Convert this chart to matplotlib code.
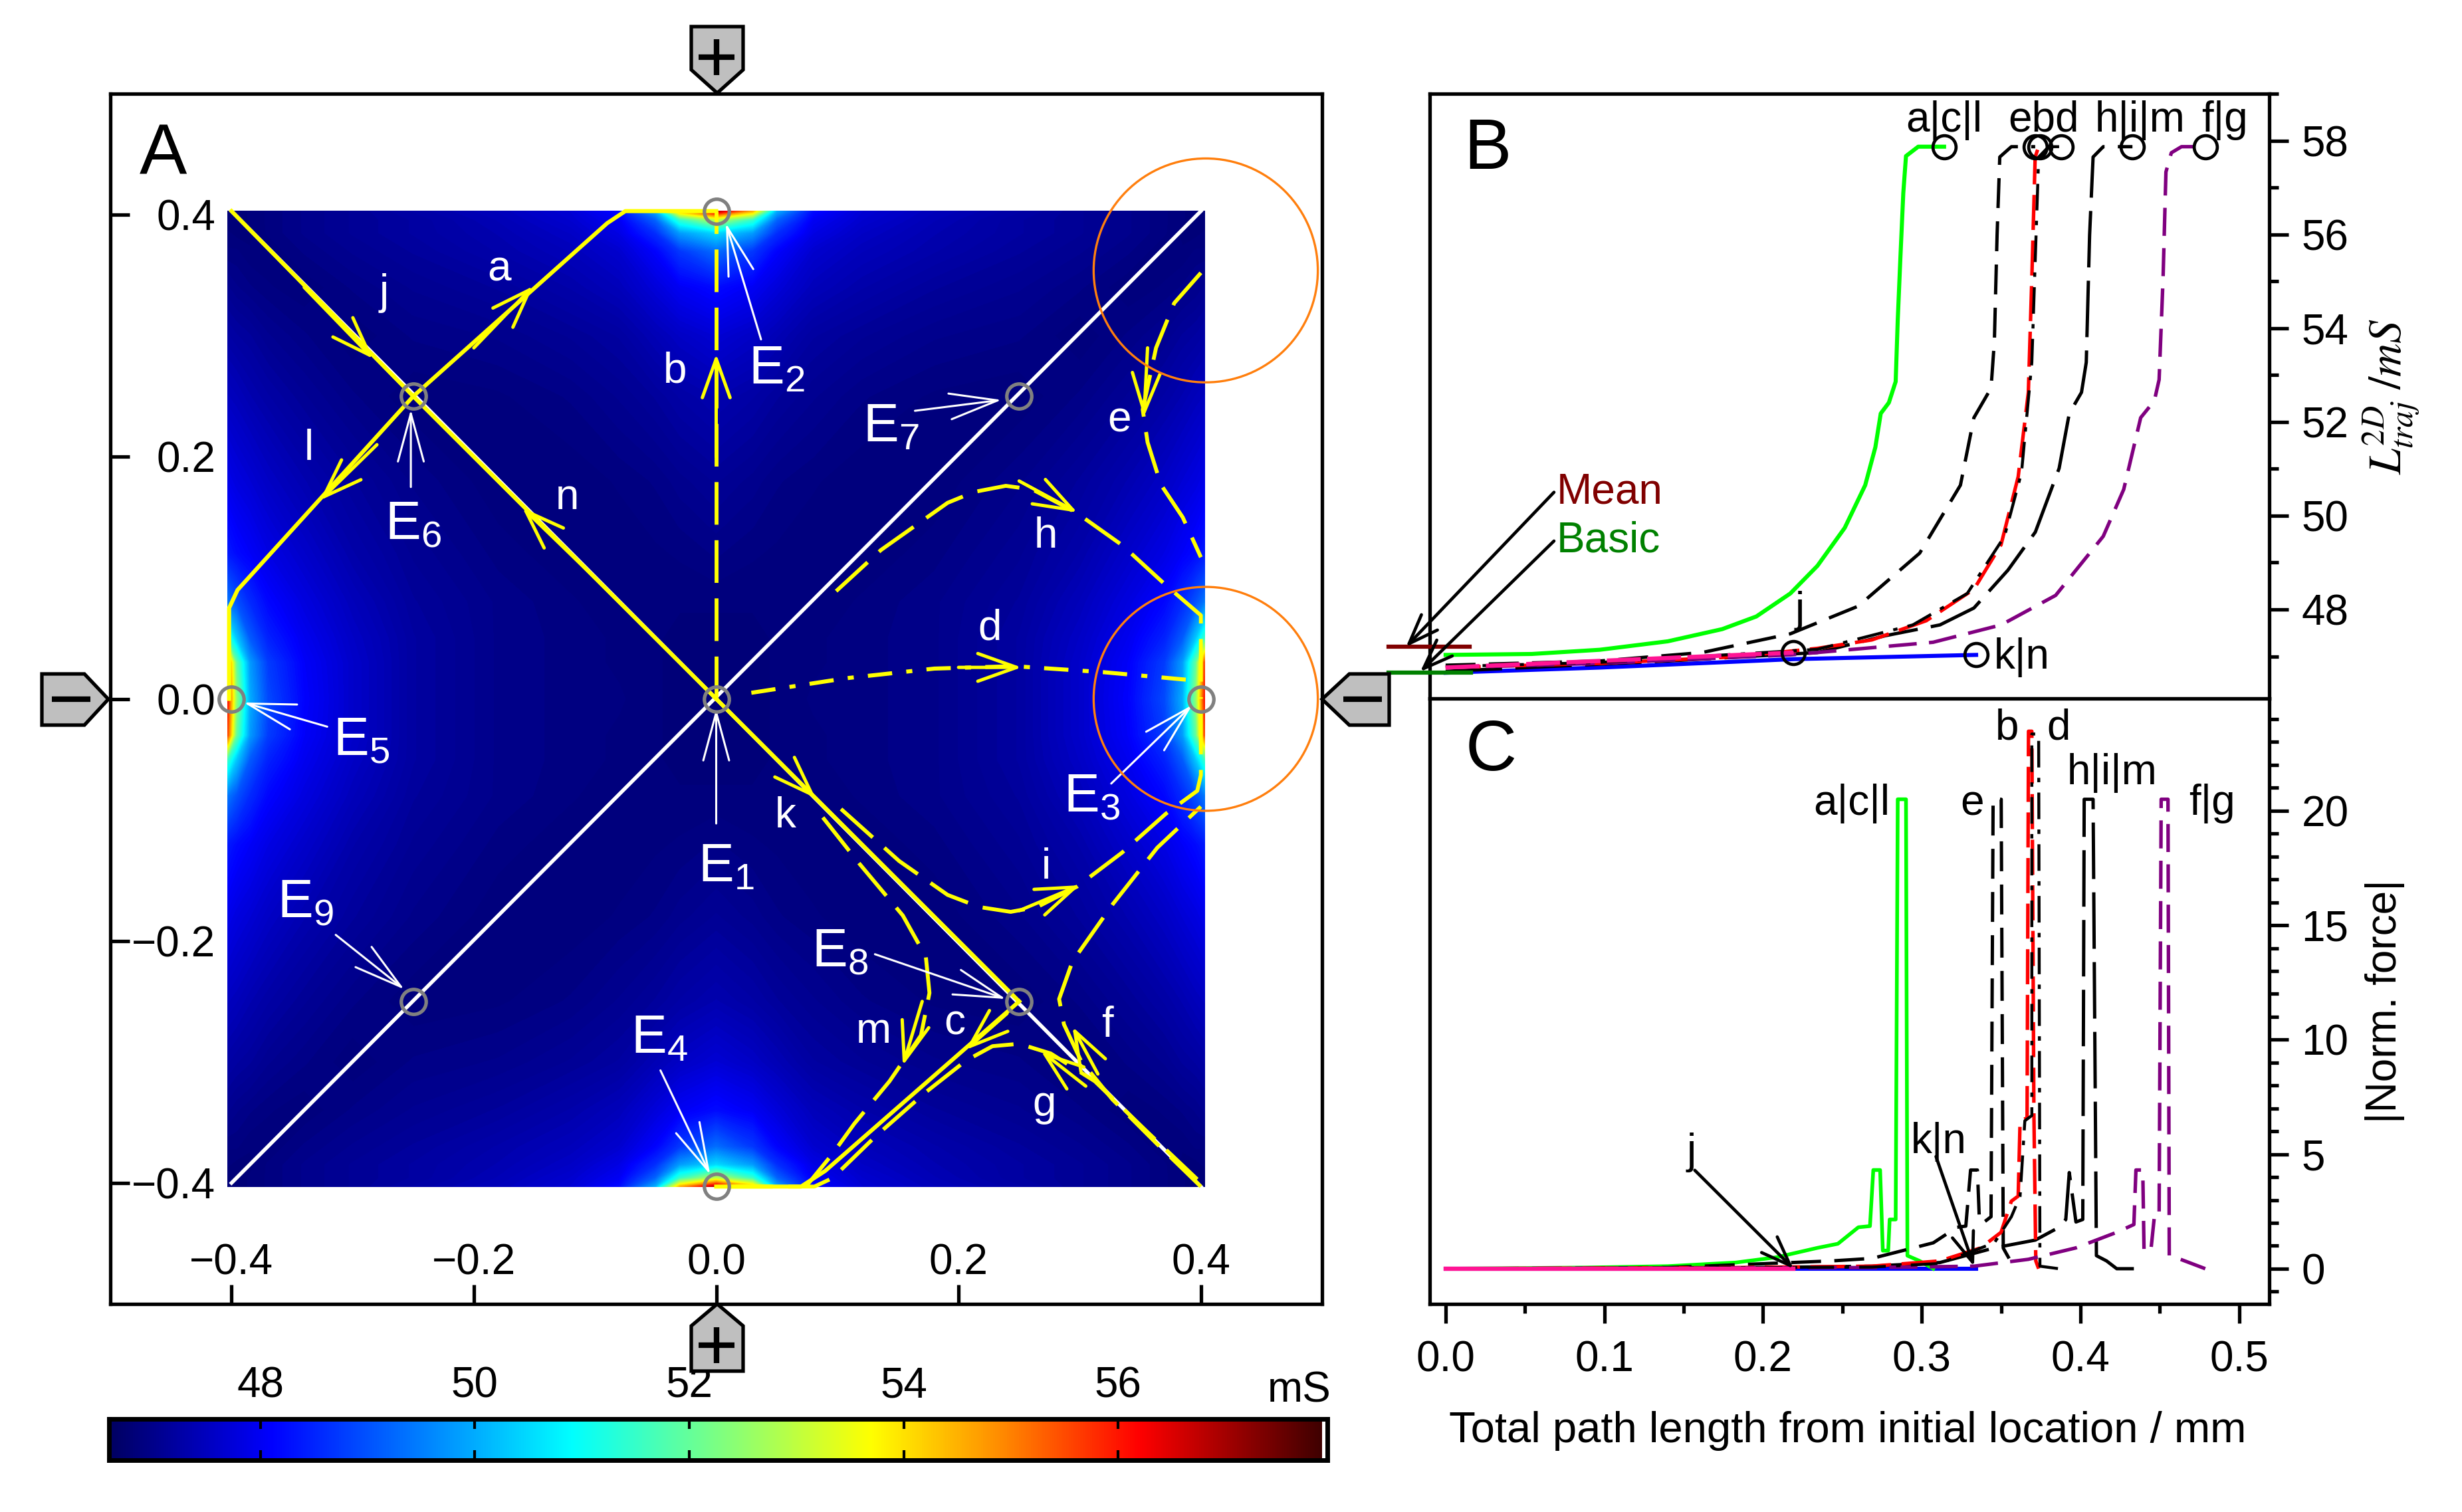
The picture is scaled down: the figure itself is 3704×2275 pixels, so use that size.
import numpy as np
import matplotlib
matplotlib.use("Agg")
import matplotlib.pyplot as plt
from matplotlib.colors import LinearSegmentedColormap, Normalize
from matplotlib.patches import Circle, Polygon
from matplotlib.ticker import MultipleLocator

plt.rcParams['font.family'] = ['Liberation Sans', 'DejaVu Sans']
plt.rcParams['mathtext.default'] = 'regular'

W, H = 3704, 2275

# heat map, upper right quadrant in mS, mirrored below
grid_nodes = [0, .03, .05, .08, .12, .18, .25, .30, .34, .37, .385, .396, .403]
heat_quadrant = [
    [46.8, 46.82, 46.85, 46.9, 46.92, 46.98, 47.2, 47.6, 48.1, 48.9, 50.0, 52.5, 56.0],
    [46.8, 46.82, 46.85, 46.88, 46.92, 46.98, 47.2, 47.6, 48.05, 48.75, 49.8, 52.0, 55.5],
    [46.82, 46.82, 46.85, 46.88, 46.92, 46.98, 47.2, 47.55, 47.95, 48.45, 49.1, 50.3, 51.5],
    [46.85, 46.85, 46.85, 46.85, 46.9, 46.98, 47.15, 47.45, 47.8, 48.15, 48.55, 49.0, 49.4],
    [46.95, 46.9, 46.88, 46.85, 46.85, 46.92, 47.08, 47.3, 47.6, 47.85, 48.05, 48.2, 48.35],
    [47.1, 47.02, 46.95, 46.9, 46.85, 46.85, 46.98, 47.15, 47.35, 47.55, 47.7, 47.8, 47.9],
    [47.35, 47.25, 47.15, 47.05, 46.95, 46.88, 46.85, 46.95, 47.1, 47.25, 47.35, 47.45, 47.5],
    [47.7, 47.55, 47.4, 47.2, 47.1, 47.0, 46.95, 46.85, 46.95, 47.05, 47.15, 47.2, 47.25],
    [48.2, 48.0, 47.75, 47.45, 47.3, 47.15, 47.05, 46.95, 46.85, 46.9, 46.95, 47.0, 47.05],
    [49.3, 48.7, 48.1, 47.65, 47.45, 47.3, 47.15, 47.05, 46.95, 46.85, 46.85, 46.9, 46.9],
    [50.5, 49.8, 48.6, 47.85, 47.55, 47.35, 47.2, 47.1, 47.0, 46.9, 46.82, 46.82, 46.85],
    [53.0, 51.5, 49.2, 48.0, 47.65, 47.4, 47.2, 47.1, 47.0, 46.9, 46.85, 46.8, 46.8],
    [57.0, 54.5, 50.0, 48.2, 47.7, 47.45, 47.25, 47.1, 47.0, 46.9, 46.85, 46.8, 46.8],
]
cbar_min, cbar_max = 46.59, 57.9
cbar_ticks = [48, 50, 52, 54, 56]
cmap_stops = [(46.59, (0, 0, .38)), (48.1, (0, 0, 1)), (49.5, (0, .5, 1)), (50.9, (0, 1, 1)),
              (52.3, (.5, 1, .5)), (53.7, (1, 1, 0)), (54.9, (1, .55, 0)), (56.2, (1, 0, 0)),
              (57.9, (.25, 0, 0))]

# trajectories in panel A (x, y in mm)
diag_x = [-.4, .4]
diag_y = [-.4, .403]
anti_x = [-.4, .4]
anti_y = [.403, -.403]
traj_j = ([-.4, -.25], [.403, .25])
traj_n = ([-.25, 0], [.25, 0])
traj_k = ([0, .25], [0, -.25])
traj_a = ([-.25, -.09, -.075, 0], [.25, .393, .403, .403])
traj_l = ([-.25, -.395, -.402, -.402], [.25, .09, .075, 0])
traj_c = ([.25, .09, .07, 0], [-.25, -.39, -.403, -.403])
traj_b = ([0, 0], [0, .403])
traj_d = ([.029, .107, .18, .246, .32, .397], [.005, .017, .025, .027, .022, .015])
traj_e = ([.4, .378, .363, .352, .356, .367, .385, .4], [.352, .327, .29, .239, .212, .177, .15, .117])
traj_h = ([.099, .136, .191, .213, .239, .261, .297, .335, .371, .4, .4],
          [.089, .123, .162, .171, .176, .173, .154, .127, .094, .069, 0])
traj_i = ([.103, .151, .191, .217, .243, .265, .298, .335, .371, .397, .4, .4],
          [-.091, -.134, -.162, -.172, -.176, -.172, -.155, -.127, -.095, -.076, -.063, 0])
traj_m = ([.088, .118, .154, .173, .176, .169, .143, .114, .096, .074],
          [-.098, -.136, -.179, -.213, -.243, -.278, -.316, -.351, -.376, -.403])
traj_f = ([.4, .364, .327, .301, .287, .283, .294, .327, .364, .4],
          [-.403, -.368, -.331, -.299, -.269, -.248, -.217, -.17, -.123, -.089])
traj_g = ([.397, .357, .3125, .276, .25, .228, .206, .173, .132, .096, .081, 0],
          [-.397, -.359, -.316, -.293, -.285, -.287, -.299, -.325, -.361, -.396, -.403, -.403])

# direction arrows on the trajectories: tail x, tail y, tip x, tip y
traj_arrows = [(-.34, .34, -.283, .281), (-.2, .29, -.151, .341), (0, .2, 0, .285),
               (-.28, .21, -.327, .164), (-.1, .1, -.16, .158), (.03, -.03, .082, -.082),
               (.356, .29, .353, .233), (.25, .18, .298, .154), (.2, .026, .252, .026),
               (.25, -.175, .3, -.154), (.17, -.25, .154, -.303), (.24, -.26, .206, -.29),
               (.315, -.31, .294, -.271), (.305, -.32, .268, -.291)]

e_x = [0, 0, .4, 0, -.4, -.25, .25, .25, -.25]
e_y = [0, .403, 0, -.403, 0, .25, .25, -.25, -.25]
e_labels = ['E$_1$', 'E$_2$', 'E$_3$', 'E$_4$', 'E$_5$', 'E$_6$', 'E$_7$', 'E$_8$', 'E$_9$']
e_label_x = [.008, .05, .31, -.047, -.293, -.25, .144, .102, -.339]
e_label_y = [-.139, .272, -.082, -.281, -.035, .143, .224, -.21, -.169]
e_tail_x = [0, .037, .326, -.046, -.321, -.252, .164, .131, -.314]
e_tail_y = [-.103, .297, -.07, -.307, -.023, .175, .238, -.211, -.195]
e_tip_x = [0, .008, .393, -.005, -.39, -.252, .2355, .239, -.2575]
e_tip_y = [-.008, .393, -.005, -.393, -.003, .239, .247, -.248, -.24]

path_names = ['a', 'j', 'l', 'n', 'b', 'h', 'd', 'e', 'k', 'i', 'c', 'm', 'f', 'g']
path_x = [-.179, -.274, -.336, -.123, -.034, .272, .226, .333, .057, .272, .197, .13, .323, .271]
path_y = [.355, .335, .207, .166, .271, .134, .058, .23, -.097, -.139, -.268, -.275, -.27, -.335]

map_ticks = [-.4, -.2, 0, .2, .4]
map_ticklabels = ['\u22120.4', '\u22120.2', '0.0', '0.2', '0.4']

# panel B, L2D along the trajectory
b_green_x = [0, .0543, .0972, .14, .1743, .1958, .2172, .2343, .2515, .2644, .2708, .2742, .2793, .2836,
             .2849, .2866, .2884, .2901, .2978, .3141]
b_green_y = [47.03, 47.05, 47.14, 47.32, 47.58, 47.85, 48.34, 48.93, 49.74, 50.65, 51.46, 52.18, 52.41, 52.86,
             54.17, 55.52, 56.88, 57.67, 57.87, 57.87]
b_e_x = [0, .0972, .1615, .2172, .26, .2987, .3244, .3329, .3437, .3458, .3475, .3492, .3565, .3715]
b_e_y = [46.81, 46.9, 47.08, 47.48, 48.07, 49.2, 50.65, 52.09, 52.72, 53.72, 55.98, 57.65, 57.87, 57.87]
b_red_x = [0, .0972, .1829, .2343, .2686, .3029, .3329, .35, .3608, .3672, .3694, .3715, .3737]
b_red_y = [46.76, 46.85, 46.99, 47.17, 47.35, 47.76, 48.43, 49.38, 50.83, 52.63, 55.07, 57.65, 57.87]
b_d_x = [0, .0972, .2343, .2944, .3287, .3522, .3629, .3694, .3737, .38, .3878]
b_d_y = [46.78, 46.87, 47.15, 47.67, 48.34, 49.56, 50.92, 53.27, 57.65, 57.87, 57.87]
b_h_x = [0, .14, .2343, .2772, .3115, .3329, .3544, .3716, .3866, .393, .4007, .4037, .4058, .408, .4144, .4328]
b_h_y = [46.68, 46.9, 47.08, 47.44, 47.67, 48.03, 48.84, 49.65, 51.01, 52.18, 52.63, 53.27, 55.98, 57.65,
         57.87, 57.87]
b_f_x = [0, .0972, .2172, .2472, .3072, .3501, .3844, .4144, .4273, .438, .4466, .4496, .4521, .4539, .4573,
         .4637, .4787]
b_f_y = [46.76, 46.85, 47.03, 47.12, 47.3, 47.67, 48.3, 49.56, 50.56, 52.09, 52.45, 52.9, 55.07, 57.33, 57.74,
         57.87, 57.87]
b_j_x = [0, .2193]
b_j_y = [46.76, 47.08]
b_k_x = [0, .0972, .2193, .3343]
b_k_y = [46.65, 46.76, 46.94, 47.03]
b_end_x = [.3141, .3715, .3745, .3878, .4328, .4787, .2193, .3343]
b_end_y = [57.87, 57.87, 57.87, 57.87, 57.87, 57.87, 47.08, 47.03]
mean_level = 47.21
basic_level = 46.65

# panel C, normalised force along the trajectory
c_green_x = [0, .0886, .14, .1829, .2086, .2343, .2472, .2601, .2674, .2695, .2738, .2755, .2789, .2798, .2836,
             .2849, .2901, .291, .2987, .3073]
c_green_y = [0, .05, .11, .27, .5, .91, 1.09, 1.81, 1.86, 4.31, 4.31, .79, .79, 2.15, 2.15, 20.5, 20.5, .57,
             .34, 0]
c_e_x = [0, .14, .243, .2687, .3073, .3222, .3278, .3308, .3351, .3364, .3394, .3437, .345, .3501, .3514, .3587]
c_e_y = [0, .05, .34, .45, 1.13, 1.81, 1.86, 4.31, 4.31, 2.04, 2.04, 2.27, 20.5, 20.5, .9, 0]
c_red_x = [0, .1829, .2686, .3115, .3372, .35, .3565, .3608, .362, .3664, .3673, .3694, .3707, .3719, .3737]
c_red_y = [0, .05, .11, .34, .91, 1.59, 2.95, 3.17, 6.46, 6.58, 23.47, 23.47, 6.8, .34, 0]
c_d_x = [0, .2686, .3115, .3458, .3565, .362, .365, .3694, .3694, .3737, .3745, .3865]
c_d_y = [0, .07, .23, 1.13, 2.27, 3.17, 6.46, 6.69, 23.35, 23.35, .11, 0]
c_h_x = [0, .14, .2687, .3115, .3458, .3716, .3866, .3908, .393, .3972, .4015, .4024, .408, .4101, .4165, .4229,
         .4337]
c_h_y = [0, 0, .11, .27, .91, 1.25, 1.81, 2.15, 4.2, 2.04, 2.15, 20.5, 20.5, .57, .34, 0, 0]
c_f_x = [0, .2686, .3329, .3672, .3972, .4229, .4337, .435, .4393, .4401, .4444, .4466, .4496, .4509, .4552, .456,
         .4616, .4787]
c_f_y = [0, .05, .11, .41, .91, 1.59, 1.93, 4.31, 4.31, .79, .79, 2.27, 2.27, 20.5, 20.5, .57, .45, 0]
c_j_x = [0, .2193]
c_j_y = [0, 0]
c_k_x = [0, .3343]
c_k_y = [0, 0]


def box(fig, left, top, right, bottom):
    return fig.add_axes([left / W, 1 - bottom / H, (right - left) / W, (bottom - top) / H])


def arrow(ax, tail, tip, color, lw, head=(50, 16), clip=False, zorder=8):
    props = dict(arrowstyle='->,head_length=%g,head_width=%g' % head, mutation_scale=1, color=color,
                 lw=lw, shrinkA=0, shrinkB=0)
    ann = ax.annotate('', xy=tip, xytext=tail, arrowprops=props, zorder=zorder, annotation_clip=False)
    ann.arrow_patch.set_clip_on(clip)


def style_frame(ax):
    for s in ax.spines.values():
        s.set_linewidth(3.8)


fig = plt.figure(figsize=(W / 100, H / 100), dpi=100)

# panel A
ax = box(fig, 166, 141, 1989, 1962)
style_frame(ax)
quad = np.array(heat_quadrant)
nodes = np.array(grid_nodes)
full_nodes = np.concatenate([-nodes[:0:-1], nodes])
right_half = np.vstack([quad[:0:-1], quad])
field = np.hstack([right_half[:, :0:-1], right_half])
stop_vals = [(v - cbar_min) / (cbar_max - cbar_min) for v, _ in cmap_stops]
cmap = LinearSegmentedColormap.from_list('field', list(zip(stop_vals, [c for _, c in cmap_stops])), N=512)
norm = Normalize(cbar_min, cbar_max)
ax.contourf(full_nodes, full_nodes, field, levels=np.linspace(cbar_min, cbar_max, 226), cmap=cmap, norm=norm,
            antialiased=False, zorder=1)
ax.set_xlim(-.5, .5)
ax.set_ylim(-.5, .5)

ax.plot(diag_x, diag_y, color='white', lw=4, zorder=3)
ax.plot(anti_x, anti_y, color='white', lw=4, zorder=3)
for t in [traj_j, traj_n, traj_k, traj_a, traj_l, traj_c]:
    ax.plot(t[0], t[1], color='#ffff00', lw=4.4, zorder=4, clip_on=False)
for t in [traj_b, traj_e, traj_h, traj_i, traj_m, traj_f, traj_g]:
    ax.plot(t[0], t[1], color='#ffff00', lw=4.2, ls=(0, (11, 4)), zorder=4)
ax.plot(traj_d[0], traj_d[1], color='#ffff00', lw=4.4, ls=(0, (6, 3.5, 1.5, 3.5)), zorder=4)
for tx, ty, hx, hy in traj_arrows:
    arrow(ax, (tx, ty), (hx, hy), '#ffff00', 3.6, head=(42, 15), zorder=5)

for i in range(len(e_labels)):
    arrow(ax, (e_tail_x[i], e_tail_y[i]), (e_tip_x[i], e_tip_y[i]), 'white', 2.2, head=(52, 14), zorder=6)
    ax.text(e_label_x[i], e_label_y[i], e_labels[i], color='white', fontsize=58, ha='center', va='center', zorder=7)
ax.plot(e_x, e_y, ls='none', marker='o', ms=27, mfc='none', mec='#808080', mew=3.8, clip_on=False, zorder=7)
for px, py, name in zip(path_x, path_y, path_names):
    ax.text(px, py, name, color='white', fontsize=46, ha='center', va='center', zorder=7)

for cy in [.354, 0]:
    ax.add_patch(Circle((.404, cy), .0925, fill=False, ec='#ff7f0e', lw=2.4, zorder=6))

ax.set_xticks(map_ticks)
ax.set_xticklabels(map_ticklabels)
ax.set_yticks(map_ticks)
ax.set_yticklabels(map_ticklabels)
ax.tick_params(axis='x', direction='in', length=21, width=3.8, labelsize=46, pad=-66)
ax.tick_params(axis='y', direction='in', length=21, width=3.8, labelsize=46, pad=-114)

# panel B
ax_b = box(fig, 2151, 141, 3414, 1051)
style_frame(ax_b)
ax_b.plot(b_k_x, b_k_y, color='#0000ff', lw=4.4, zorder=2)
ax_b.plot(b_green_x, b_green_y, color='#00ff00', lw=4.4, zorder=2)
ax_b.plot(b_e_x, b_e_y, color='black', lw=3.6, ls=(0, (9, 4)), zorder=3)
ax_b.plot(b_h_x, b_h_y, color='black', lw=3.6, ls=(0, (17, 4)), zorder=3)
ax_b.plot(b_red_x, b_red_y, color='red', lw=3.8, ls=(0, (10, 3)), zorder=3)
ax_b.plot(b_d_x, b_d_y, color='black', lw=3.2, ls=(0, (9, 3.5, 1.5, 3.5)), zorder=4)
ax_b.plot(b_f_x, b_f_y, color='#800080', lw=3.8, ls=(0, (8, 3.5)), zorder=3)
ax_b.plot(b_j_x, b_j_y, color='#ff1493', lw=4.6, ls=(0, (8, 1.5)), zorder=4)
ax_b.plot(b_end_x, b_end_y, ls='none', marker='o', ms=25, mfc='none', mec='black', mew=3.4, zorder=5)
ax_b.plot([-.036, .015], [mean_level, mean_level], color='#800000', lw=4.5, clip_on=False, zorder=6)
ax_b.plot([-.036, .016], [basic_level, basic_level], color='#008000', lw=4.5, clip_on=False, zorder=6)
arrow(ax_b, (.0683, 50.5), (-.025, 47.2), 'black', 3.4, head=(32, 12))
arrow(ax_b, (.0683, 49.46), (-.016, 46.67), 'black', 3.4, head=(32, 12))
ax_b.text(.07, 50.5, 'Mean', color='#800000', fontsize=46, va='center')
ax_b.text(.07, 49.46, 'Basic', color='#008000', fontsize=46, va='center')
for lx, ly, s in [(.314, 58.44, 'a|c|l'), (.377, 58.44, 'ebd'), (.4375, 58.44, 'h|i|m'), (.491, 58.44, 'f|g'),
                  (.363, 46.98, 'k|n'), (.223, 47.97, 'j')]:
    ax_b.text(lx, ly, s, fontsize=46, ha='center', va='center', zorder=7)
ax_b.set_xlim(-.01, .519)
ax_b.set_ylim(46.1, 59)
ax_b.yaxis.tick_right()
ax_b.yaxis.set_major_locator(MultipleLocator(2))
ax_b.yaxis.set_minor_locator(MultipleLocator(1))
ax_b.xaxis.set_visible(False)
ax_b.tick_params(axis='y', which='major', direction='out', length=21, width=3.8, labelsize=46, pad=14)
ax_b.tick_params(axis='y', which='minor', direction='out', length=10, width=3.8)

# panel C
ax_c = box(fig, 2151, 1051, 3414, 1962)
style_frame(ax_c)
ax_c.plot(c_k_x, c_k_y, color='#0000ff', lw=4.4, zorder=2)
ax_c.plot(c_green_x, c_green_y, color='#00ff00', lw=4, zorder=2)
ax_c.plot(c_e_x, c_e_y, color='black', lw=3.6, ls=(0, (9, 4)), zorder=3)
ax_c.plot(c_h_x, c_h_y, color='black', lw=3.6, ls=(0, (17, 4)), zorder=3)
ax_c.plot(c_red_x, c_red_y, color='red', lw=3.8, ls=(0, (10, 3)), zorder=3)
ax_c.plot(c_d_x, c_d_y, color='black', lw=3.2, ls=(0, (9, 3.5, 1.5, 3.5)), zorder=4)
ax_c.plot(c_f_x, c_f_y, color='#800080', lw=3.8, ls=(0, (8, 3.5)), zorder=3)
ax_c.plot(c_j_x, c_j_y, color='#ff1493', lw=4.6, zorder=4)
arrow(ax_c, (.157, 4.3), (.2192, 0), 'black', 3.4, head=(32, 12))
arrow(ax_c, (.309, 4.9), (.333, .1), 'black', 3.4, head=(32, 12))
for lx, ly, s in [(.2557, 20.3, 'a|c|l'), (.332, 20.3, 'e'), (.354, 23.6, 'b'), (.3864, 23.6, 'd'),
                  (.42, 21.65, 'h|i|m'), (.483, 20.3, 'f|g'), (.155, 5.08, 'j'), (.3106, 5.54, 'k|n')]:
    ax_c.text(lx, ly, s, fontsize=46, ha='center', va='center', zorder=7)
ax_c.set_xlim(-.01, .519)
ax_c.set_ylim(-1.54, 24.9)
ax_c.yaxis.tick_right()
ax_c.xaxis.set_major_locator(MultipleLocator(.1))
ax_c.xaxis.set_minor_locator(MultipleLocator(.05))
ax_c.yaxis.set_major_locator(MultipleLocator(5))
ax_c.yaxis.set_minor_locator(MultipleLocator(1))
ax_c.tick_params(axis='both', which='major', direction='out', length=21, width=3.8, labelsize=46)
ax_c.tick_params(axis='both', which='minor', direction='out', length=10, width=3.8)
ax_c.tick_params(axis='y', which='major', pad=14)
ax_c.tick_params(axis='x', which='major', pad=18)
ax_c.xaxis.set_major_formatter(plt.FormatStrFormatter('%.1f'))

# colour bar
cax = box(fig, 164, 2135, 1997, 2197)
for s in cax.spines.values():
    s.set_linewidth(5)
cax.imshow(np.linspace(cbar_min, cbar_max, 512)[None, :], extent=(cbar_min, cbar_max, 0, 1), aspect='auto',
           cmap=cmap, norm=norm)
cax.set_xlim(cbar_min, 57.95)
cax.set_ylim(0, 1)
cax.set_yticks([])
cax.set_xticks(cbar_ticks)
cax.tick_params(axis='x', direction='in', top=True, bottom=True, labeltop=True, labelbottom=False, length=11,
                width=3, labelsize=46, pad=14)

# tabs, panel letters and axis titles in figure pixels
over = fig.add_axes([0, 0, 1, 1], facecolor='none')
over.set_xlim(0, W)
over.set_ylim(H, 0)
over.axis('off')
tabs = [[(1040, 40), (1118, 40), (1118, 105), (1079, 140), (1040, 105)],
        [(1040, 2063), (1118, 2063), (1118, 1995), (1079, 1962), (1040, 1995)],
        [(63, 1014), (127, 1014), (163, 1052), (127, 1091), (63, 1091)],
        [(2090, 1014), (2030, 1014), (1989, 1052), (2030, 1091), (2090, 1091)]]
for pts in tabs:
    over.add_patch(Polygon(pts, closed=True, fc='#bfbfbf', ec='black', lw=3.8, joinstyle='miter'))
for cx, cy in [(1078, 86), (1078, 2024)]:
    over.plot([cx - 27, cx + 27], [cy, cy], color='black', lw=6, solid_capstyle='butt')
    over.plot([cx, cx], [cy - 27, cy + 27], color='black', lw=6, solid_capstyle='butt')
for cx in [107, 2050]:
    over.plot([cx - 29, cx + 29], [1052, 1052], color='black', lw=6, solid_capstyle='butt')

over.text(245, 234, 'A', fontsize=77, ha='center', va='center')
over.text(2238, 226, 'B', fontsize=77, ha='center', va='center')
over.text(2243, 1131, 'C', fontsize=77, ha='center', va='center')
over.text(1955, 2093, 'mS', fontsize=46, ha='center', va='center')
over.text(2780, 2153, 'Total path length from initial location / mm', fontsize=47, ha='center', va='center')
over.text(3588, 1507, '|Norm. force|', fontsize=46, rotation=90, ha='center', va='center')
over.text(3598, 597, r'$\mathit{L}_{\mathit{traj}}^{\mathit{2D}}\ \mathit{/mS}$', fontsize=50, rotation=90,
          ha='center', va='center', math_fontfamily='stix')

fig.savefig('out.png', dpi=100)
